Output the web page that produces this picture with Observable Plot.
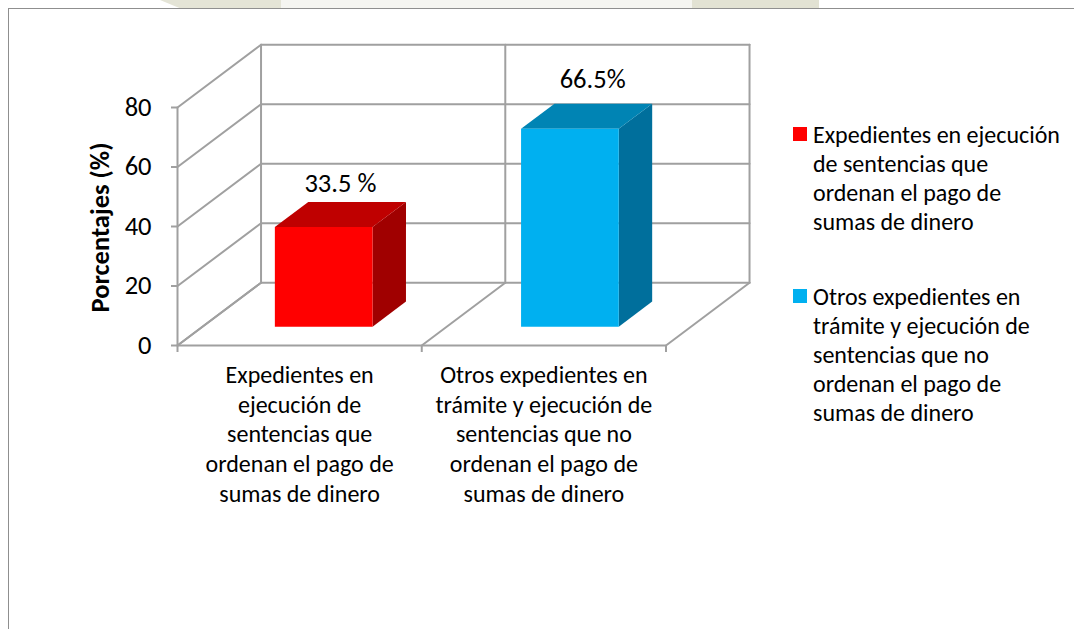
<!DOCTYPE html>
<html>
<head>
<meta charset="utf-8">
<script src="https://cdn.jsdelivr.net/npm/d3@7"></script>
<script src="https://cdn.jsdelivr.net/npm/@observablehq/plot@0.6"></script>
<style>
  html, body { margin: 0; padding: 0; background: #fff; overflow: hidden; }
  #page { position: relative; width: 1074px; height: 629px; font-family: Carlito, Lato, sans-serif; color: #000; overflow: hidden; }
  #frame { position: absolute; left: 8px; top: 8px; right: -4px; bottom: -4px; border: 1.5px solid #8f8f8f; background: #fff; }
  #chart { position: absolute; left: 0; top: 0; }
  .wm { position: absolute; top: 0; height: 9px; }
  .legend-item { position: absolute; left: 793px; font-size: 24px; line-height: 29px; white-space: pre; padding-left: 20px; }
  .legend-item i { position: absolute; left: 0; top: 7px; width: 14px; height: 14px; }
</style>
</head>
<body>
<div id="page">
  <div class="wm" style="left:160px;width:121px;background:#e4e4d6;clip-path:polygon(0 0,100% 0,100% 100%,18% 100%)"></div>
  <div class="wm" style="left:281px;width:411px;background:#f5f5f1"></div>
  <div class="wm" style="left:692px;width:127px;background:#e2e2d3"></div>
  <div id="frame"></div>
  <div id="chart"></div>
  <div id="legend"></div>
</div>
<script>
const values = [33.5, 66.5];
const valueLabels = ["33.5 %", "66.5%"];
const categoryLabels = [
  "Expedientes en\nejecución de\nsentencias que\nordenan el pago de\nsumas de dinero",
  "Otros expedientes en\ntrámite y ejecución de\nsentencias que no\nordenan el pago de\nsumas de dinero"
];
const legendLabels = [
  "Expedientes en ejecución\nde sentencias que\nordenan el pago de\nsumas de dinero",
  "Otros expedientes en\ntrámite y ejecución de\nsentencias que no\nordenan el pago de\nsumas de dinero"
];
const frontColors = ["#ff0000", "#00b0f0"];
const topColors = ["#bf0000", "#0084b4"];
const sideColors = ["#a00000", "#006f9c"];
const yTicks = [0, 20, 40, 60, 80];
const xTicks = [0, 1, 2];
const yTitle = "Porcentajes (%)";

// oblique projection: depth 0 = front of the floor, depth 1 = back wall
const depthX = 0.342, depthY = 21.1;
const pt = (cat, val, depth, id) => ({x: cat + depth * depthX, y: val + depth * depthY, id});
const seg = (id, a, b) => [pt(a[0], a[1], a[2], id), pt(b[0], b[1], b[2], id)];

const grid = [
  ...yTicks.flatMap(v => seg("back" + v, [0, v, 1], [2, v, 1])),
  ...yTicks.flatMap(v => seg("side" + v, [0, v, 0], [0, v, 1])),
  ...xTicks.flatMap(c => seg("vert" + c, [c, 0, 1], [c, 80, 1])),
  ...xTicks.flatMap(c => seg("floor" + c, [c, 0, 0], [c, 0, 1])),
  ...seg("frontV", [0, 0, 0], [0, 80, 0]),
  ...seg("frontH", [0, 0, 0], [2, 0, 0])
];

const barLefts = [0.296, 1.304], barWidth = 0.4, d0 = 0.3, d1 = 0.7;
const poly = (pts) => [...pts, pts[0]].map(p => pt(p[0], p[1], p[2]));
const faceMarks = values.flatMap((v, i) => {
  const l = barLefts[i], r = l + barWidth;
  return [
    Plot.line(poly([[r, 0, d0], [r, 0, d1], [r, v, d1], [r, v, d0]]), {x: "x", y: "y", fill: sideColors[i], stroke: null}),
    Plot.line(poly([[l, v, d0], [r, v, d0], [r, v, d1], [l, v, d1]]), {x: "x", y: "y", fill: topColors[i], stroke: null}),
    Plot.line(poly([[l, 0, d0], [r, 0, d0], [r, v, d0], [l, v, d0]]), {x: "x", y: "y", fill: frontColors[i], stroke: null})
  ];
});

const labelAt = i => pt(i + 0.5, values[i], 0.5);
const gray = "#a0a0a0";

const plot = Plot.plot({
  width: 1074,
  height: 629,
  marginLeft: 177,
  marginRight: 408.5,
  marginTop: 107,
  marginBottom: 284,
  style: {fontFamily: "Carlito, Lato, sans-serif", background: "transparent", color: "#000"},
  x: {domain: [0, 2]},
  y: {domain: [0, 80]},
  marks: [
    Plot.line(grid, {x: "x", y: "y", z: "id", stroke: gray, strokeWidth: 2}),
    Plot.axisY({ticks: yTicks, tickSize: 6, tickPadding: 20, label: null, stroke: gray, strokeWidth: 2, fill: "#000", fontSize: 26.5}),
    Plot.axisX({ticks: xTicks, tickSize: 7, tickFormat: () => "", label: null, stroke: gray, strokeWidth: 2}),
    ...faceMarks,
    Plot.text([valueLabels[0]], {x: labelAt(0).x, y: labelAt(0).y, dx: -1, dy: -31, fontSize: 26.5, fill: "#000"}),
    Plot.text([valueLabels[1]], {x: labelAt(1).x, y: labelAt(1).y, dx: 7, dy: -37, fontSize: 26.5, fill: "#000"}),
    Plot.text(categoryLabels, {x: (d, i) => i + 0.5, y: () => 0, dy: 16, lineAnchor: "top", lineHeight: 1.245, fontSize: 24, fill: "#000"}),
    Plot.text([yTitle], {x: () => 0, y: () => 40, dx: -77, dy: 1, rotate: -90, fontWeight: "bold", fontSize: 26.5, fill: "#000"})
  ]
});
document.getElementById("chart").append(plot);

const legend = document.getElementById("legend");
const legendTops = [120, 282];
legendLabels.forEach((t, i) => {
  const el = document.createElement("div");
  el.className = "legend-item";
  el.style.top = legendTops[i] + "px";
  const sw = document.createElement("i");
  sw.style.background = frontColors[i];
  el.append(sw, document.createTextNode(t));
  legend.append(el);
});
</script>
</body>
</html>
